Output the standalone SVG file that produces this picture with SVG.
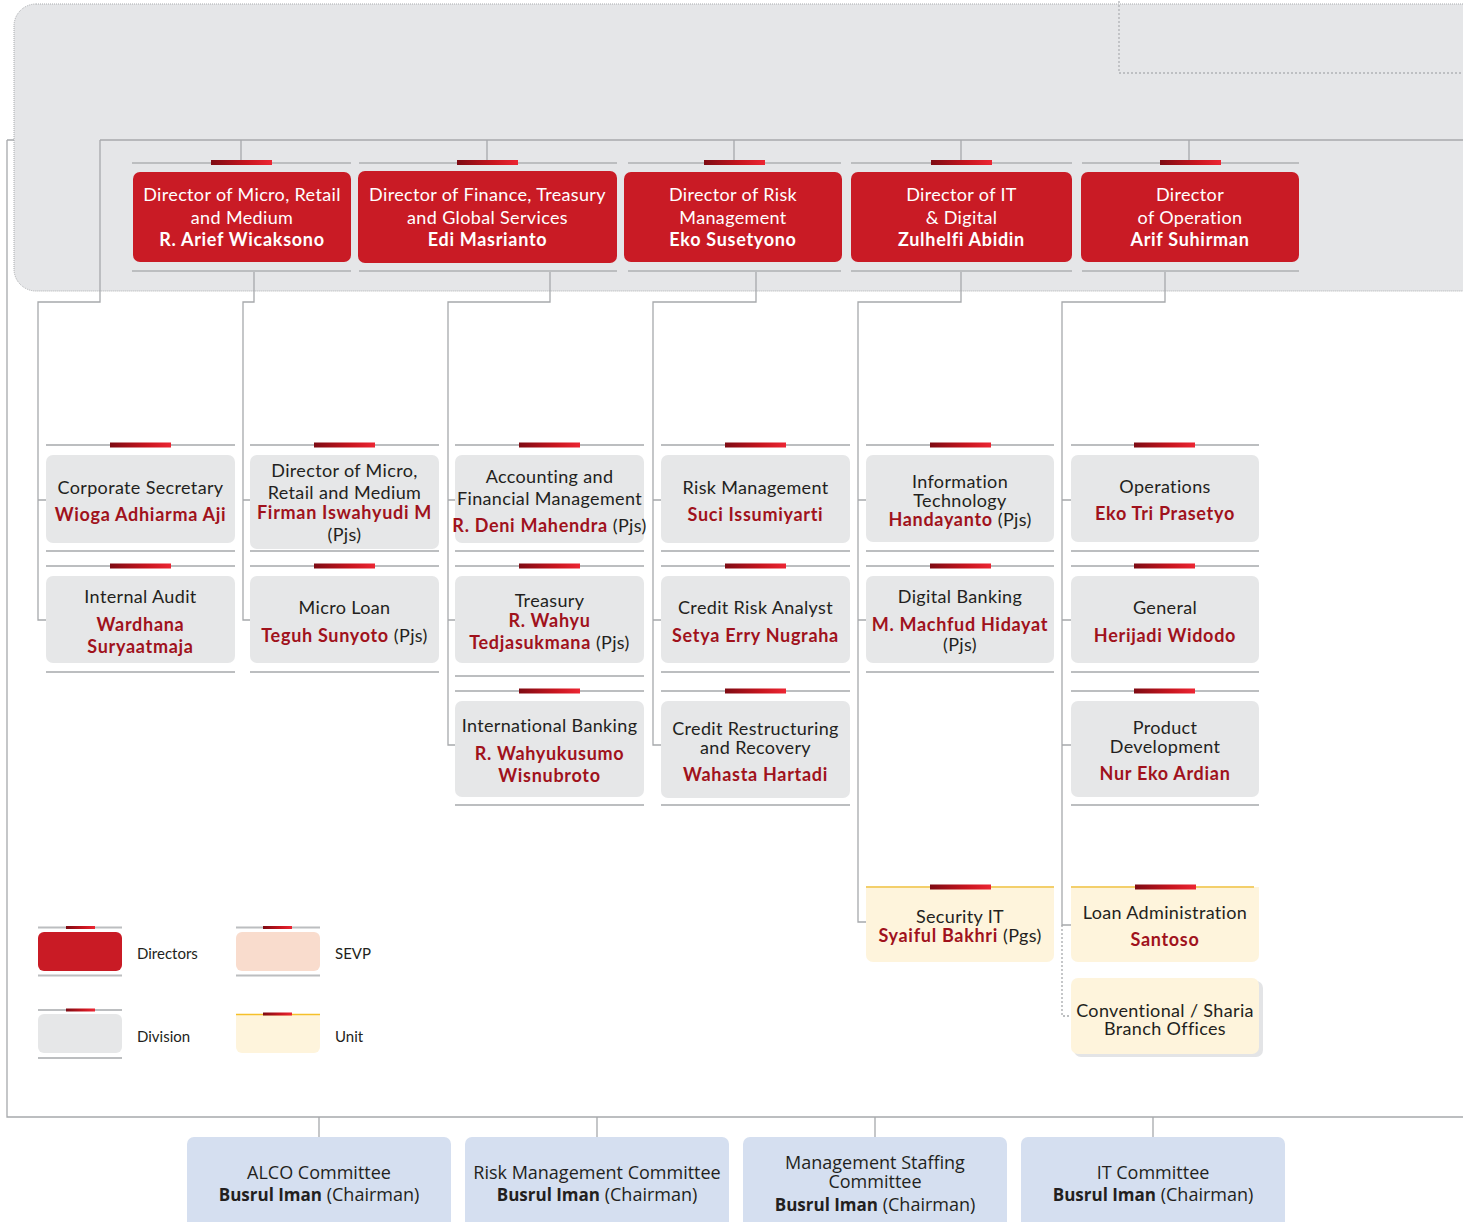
<svg xmlns="http://www.w3.org/2000/svg" width="1463" height="1222" viewBox="0 0 1463 1222">
<defs>
<linearGradient id="bar" x1="0" y1="0" x2="1" y2="0">
<stop offset="0" stop-color="#7e0b13"/>
<stop offset="0.6" stop-color="#c8151f"/>
<stop offset="1" stop-color="#ec2633"/>
</linearGradient>
<style>
.ln{stroke:#a7a9ac;stroke-width:1.3;fill:none}
.dot{stroke:#a7a9ac;stroke-width:1.3;fill:none;stroke-dasharray:2 2}
.sep{stroke:#bcbec0;stroke-width:2}
.ysep{stroke:#f3cf6b;stroke-width:2}
.dir{fill:#c91b25}
.div{fill:#e6e7e8}
.unit{fill:#fef4dc}
.com{fill:#d5dff0}
.sevp{fill:#f9dccd}
.t{font-family:Lato,"Liberation Sans",sans-serif;font-size:18px;fill:#231f20;text-anchor:middle;letter-spacing:0.35px}
.tw{fill:#ffffff}
.b{font-weight:700;letter-spacing:0.7px}
.nm{fill:#a0121c;font-weight:700;letter-spacing:0.7px}
.lg{font-family:Lato,"Liberation Sans",sans-serif;font-size:15px;fill:#231f20}
.ct{font-family:"Open Sans",Lato,"Liberation Sans",sans-serif;font-size:18px;fill:#231f20;text-anchor:middle}
.cb{font-weight:700;font-size:17px}
</style>
</defs>
<rect width="1463" height="1222" fill="#ffffff"/>

<g id="connectors-under">
<path class="ln" d="M7,140 H14 M7,140 V1117 H1463"/>
</g>

<g id="board">
<rect x="14" y="4" width="1480" height="287" rx="22" fill="#e5e6e8" stroke="#a9abae" stroke-width="1" stroke-dasharray="1 1"/>
<rect x="1119" y="-5" width="400" height="78" fill="none" stroke="#b0b2b5" stroke-width="1.3" stroke-dasharray="2 2"/>
</g>

<g id="connectors">
<path class="ln" d="M100,140 H1463"/>
<path class="ln" d="M241,140 V160 M487,140 V160 M734,140 V160 M961,140 V160 M1189,140 V160"/>
<path class="ln" d="M100,140 V302 H38 V620 H46 M38,500 H46"/>
<path class="ln" d="M254,271 V302 H243 V620 H250 M243,500 H250"/>
<path class="ln" d="M550,271 V302 H448 V745 H455 M448,500 H455 M448,620 H455"/>
<path class="ln" d="M756,271 V302 H653 V745 H661 M653,500 H661 M653,620 H661"/>
<path class="ln" d="M961,271 V302 H858 V922 H866 M858,500 H866 M858,620 H866"/>
<path class="ln" d="M1165,271 V302 H1062 V925 H1071 M1062,500 H1071 M1062,620 H1071 M1062,745 H1071"/>
<path class="dot" d="M1062,925 V1016 H1071"/>
<path class="ln" d="M319,1117 V1137 M597,1117 V1137 M875,1117 V1137 M1153,1117 V1137"/>
</g>

<!-- Directors -->
<g id="dir1">
<line class="sep" x1="132" y1="163" x2="351" y2="163"/><rect x="211" y="160" width="61" height="5" fill="url(#bar)"/>
<rect class="dir" x="133" y="172" width="218" height="90" rx="7"/>
<line class="sep" x1="132" y1="271" x2="351" y2="271"/>
<text class="t tw" x="242" y="201">Director of Micro, Retail</text>
<text class="t tw" x="242" y="224">and Medium</text>
<text class="t tw b" x="242" y="246">R. Arief Wicaksono</text>
</g>
<g id="dir2">
<line class="sep" x1="359" y1="163" x2="617" y2="163"/><rect x="457" y="160" width="61" height="5" fill="url(#bar)"/>
<rect class="dir" x="358" y="171" width="259" height="92" rx="7"/>
<line class="sep" x1="359" y1="271" x2="617" y2="271"/>
<text class="t tw" x="487.5" y="201">Director of Finance, Treasury</text>
<text class="t tw" x="487.5" y="224">and Global Services</text>
<text class="t tw b" x="487.5" y="246">Edi Masrianto</text>
</g>
<g id="dir3">
<line class="sep" x1="628" y1="163" x2="841" y2="163"/><rect x="704" y="160" width="61" height="5" fill="url(#bar)"/>
<rect class="dir" x="624" y="172" width="218" height="90" rx="7"/>
<line class="sep" x1="628" y1="271" x2="841" y2="271"/>
<text class="t tw" x="733" y="201">Director of Risk</text>
<text class="t tw" x="733" y="224">Management</text>
<text class="t tw b" x="733" y="246">Eko Susetyono</text>
</g>
<g id="dir4">
<line class="sep" x1="851" y1="163" x2="1072" y2="163"/><rect x="931" y="160" width="61" height="5" fill="url(#bar)"/>
<rect class="dir" x="851" y="172" width="221" height="90" rx="7"/>
<line class="sep" x1="851" y1="271" x2="1072" y2="271"/>
<text class="t tw" x="961.5" y="201">Director of IT</text>
<text class="t tw" x="961.5" y="224">&amp; Digital</text>
<text class="t tw b" x="961.5" y="246">Zulhelfi Abidin</text>
</g>
<g id="dir5">
<line class="sep" x1="1082" y1="163" x2="1299" y2="163"/><rect x="1160" y="160" width="61" height="5" fill="url(#bar)"/>
<rect class="dir" x="1081" y="172" width="218" height="90" rx="7"/>
<line class="sep" x1="1082" y1="271" x2="1299" y2="271"/>
<text class="t tw" x="1190" y="201">Director</text>
<text class="t tw" x="1190" y="224">of Operation</text>
<text class="t tw b" x="1190" y="246">Arif Suhirman</text>
</g>

<!-- Column 1 -->
<g id="corp-sec">
<line class="sep" x1="46" y1="445" x2="235" y2="445"/><rect x="110" y="442.5" width="61" height="5" fill="url(#bar)"/>
<rect class="div" x="46" y="455" width="189" height="88" rx="7"/>
<line class="sep" x1="46" y1="551" x2="235" y2="551"/>
<text class="t" x="140.5" y="494">Corporate Secretary</text>
<text class="t nm" x="140.5" y="521">Wioga Adhiarma Aji</text>
</g>
<g id="internal-audit">
<line class="sep" x1="46" y1="566" x2="235" y2="566"/><rect x="110" y="563.5" width="61" height="5" fill="url(#bar)"/>
<rect class="div" x="46" y="576" width="189" height="87" rx="7"/>
<line class="sep" x1="46" y1="672" x2="235" y2="672"/>
<text class="t" x="140.5" y="603">Internal Audit</text>
<text class="t nm" x="140.5" y="631">Wardhana</text>
<text class="t nm" x="140.5" y="653">Suryaatmaja</text>
</g>

<!-- Column 2 -->
<g id="dir-micro">
<line class="sep" x1="250" y1="445" x2="439" y2="445"/><rect x="314" y="442.5" width="61" height="5" fill="url(#bar)"/>
<rect class="div" x="250" y="455" width="189" height="94" rx="7"/>
<line class="sep" x1="250" y1="551" x2="439" y2="551"/>
<text class="t" x="344.5" y="477">Director of Micro,</text>
<text class="t" x="344.5" y="499">Retail and Medium</text>
<text class="t nm" x="344.5" y="519">Firman Iswahyudi M</text>
<text class="t" x="344.5" y="541">(Pjs)</text>
</g>
<g id="micro-loan">
<line class="sep" x1="250" y1="566" x2="439" y2="566"/><rect x="314" y="563.5" width="61" height="5" fill="url(#bar)"/>
<rect class="div" x="250" y="576" width="189" height="87" rx="7"/>
<line class="sep" x1="250" y1="672" x2="439" y2="672"/>
<text class="t" x="344.5" y="614">Micro Loan</text>
<text class="t" x="344.5" y="642"><tspan class="nm">Teguh Sunyoto</tspan> (Pjs)</text>
</g>

<!-- Column 3 -->
<g id="accounting">
<line class="sep" x1="455" y1="445" x2="644" y2="445"/><rect x="519" y="442.5" width="61" height="5" fill="url(#bar)"/>
<rect class="div" x="455" y="455" width="189" height="88" rx="7"/>
<line class="sep" x1="455" y1="551" x2="644" y2="551"/>
<text class="t" x="549.5" y="483">Accounting and</text>
<text class="t" x="549.5" y="505">Financial Management</text>
<text class="t" x="549.5" y="532"><tspan class="nm">R. Deni Mahendra</tspan> (Pjs)</text>
</g>
<g id="treasury">
<line class="sep" x1="455" y1="566" x2="644" y2="566"/><rect x="519" y="563.5" width="61" height="5" fill="url(#bar)"/>
<rect class="div" x="455" y="576" width="189" height="87" rx="7"/>
<line class="sep" x1="455" y1="676" x2="644" y2="676"/>
<text class="t" x="549.5" y="607">Treasury</text>
<text class="t nm" x="549.5" y="627">R. Wahyu</text>
<text class="t" x="549.5" y="649"><tspan class="nm">Tedjasukmana</tspan> (Pjs)</text>
</g>
<g id="intl-banking">
<line class="sep" x1="455" y1="691" x2="644" y2="691"/><rect x="519" y="688.5" width="61" height="5" fill="url(#bar)"/>
<rect class="div" x="455" y="701" width="189" height="96" rx="7"/>
<line class="sep" x1="455" y1="805" x2="644" y2="805"/>
<text class="t" x="549.5" y="732">International Banking</text>
<text class="t nm" x="549.5" y="760">R. Wahyukusumo</text>
<text class="t nm" x="549.5" y="782">Wisnubroto</text>
</g>

<!-- Column 4 -->
<g id="risk-mgmt">
<line class="sep" x1="661" y1="445" x2="850" y2="445"/><rect x="725" y="442.5" width="61" height="5" fill="url(#bar)"/>
<rect class="div" x="661" y="455" width="189" height="88" rx="7"/>
<line class="sep" x1="661" y1="551" x2="850" y2="551"/>
<text class="t" x="755.5" y="494">Risk Management</text>
<text class="t nm" x="755.5" y="521">Suci Issumiyarti</text>
</g>
<g id="credit-risk">
<line class="sep" x1="661" y1="566" x2="850" y2="566"/><rect x="725" y="563.5" width="61" height="5" fill="url(#bar)"/>
<rect class="div" x="661" y="576" width="189" height="87" rx="7"/>
<line class="sep" x1="661" y1="672" x2="850" y2="672"/>
<text class="t" x="755.5" y="614">Credit Risk Analyst</text>
<text class="t nm" x="755.5" y="642">Setya Erry Nugraha</text>
</g>
<g id="credit-restr">
<line class="sep" x1="661" y1="691" x2="850" y2="691"/><rect x="725" y="688.5" width="61" height="5" fill="url(#bar)"/>
<rect class="div" x="661" y="701" width="189" height="97" rx="7"/>
<line class="sep" x1="661" y1="805" x2="850" y2="805"/>
<text class="t" x="755.5" y="735">Credit Restructuring</text>
<text class="t" x="755.5" y="754">and Recovery</text>
<text class="t nm" x="755.5" y="781">Wahasta Hartadi</text>
</g>

<!-- Column 5 -->
<g id="info-tech">
<line class="sep" x1="866" y1="445" x2="1054" y2="445"/><rect x="930" y="442.5" width="61" height="5" fill="url(#bar)"/>
<rect class="div" x="866" y="455" width="188" height="87" rx="7"/>
<line class="sep" x1="866" y1="551" x2="1054" y2="551"/>
<text class="t" x="960" y="488">Information</text>
<text class="t" x="960" y="507">Technology</text>
<text class="t" x="960" y="526"><tspan class="nm">Handayanto</tspan> (Pjs)</text>
</g>
<g id="digital-banking">
<line class="sep" x1="866" y1="566" x2="1054" y2="566"/><rect x="930" y="563.5" width="61" height="5" fill="url(#bar)"/>
<rect class="div" x="866" y="576" width="188" height="87" rx="7"/>
<line class="sep" x1="866" y1="672" x2="1054" y2="672"/>
<text class="t" x="960" y="603">Digital Banking</text>
<text class="t nm" x="960" y="631">M. Machfud Hidayat</text>
<text class="t" x="960" y="651">(Pjs)</text>
</g>
<g id="security-it">
<rect class="unit" x="866" y="887" width="188" height="75" rx="7"/>
<rect class="unit" x="866" y="887" width="188" height="10"/>
<line class="ysep" x1="866" y1="887" x2="1054" y2="887"/><rect x="930" y="884.5" width="61" height="5" fill="url(#bar)"/>
<text class="t" x="960" y="923">Security IT</text>
<text class="t" x="960" y="942"><tspan class="nm">Syaiful Bakhri</tspan> (Pgs)</text>
</g>

<!-- Column 6 -->
<g id="operations">
<line class="sep" x1="1071" y1="445" x2="1259" y2="445"/><rect x="1134" y="442.5" width="61" height="5" fill="url(#bar)"/>
<rect class="div" x="1071" y="455" width="188" height="87" rx="7"/>
<line class="sep" x1="1071" y1="551" x2="1259" y2="551"/>
<text class="t" x="1165" y="493">Operations</text>
<text class="t nm" x="1165" y="520">Eko Tri Prasetyo</text>
</g>
<g id="general">
<line class="sep" x1="1071" y1="566" x2="1259" y2="566"/><rect x="1134" y="563.5" width="61" height="5" fill="url(#bar)"/>
<rect class="div" x="1071" y="576" width="188" height="87" rx="7"/>
<line class="sep" x1="1071" y1="672" x2="1259" y2="672"/>
<text class="t" x="1165" y="614">General</text>
<text class="t nm" x="1165" y="642">Herijadi Widodo</text>
</g>
<g id="product-dev">
<line class="sep" x1="1071" y1="691" x2="1259" y2="691"/><rect x="1134" y="688.5" width="61" height="5" fill="url(#bar)"/>
<rect class="div" x="1071" y="701" width="188" height="96" rx="7"/>
<line class="sep" x1="1071" y1="805" x2="1259" y2="805"/>
<text class="t" x="1165" y="734">Product</text>
<text class="t" x="1165" y="753">Development</text>
<text class="t nm" x="1165" y="780">Nur Eko Ardian</text>
</g>
<g id="loan-admin">
<rect class="unit" x="1071" y="887" width="188" height="75" rx="7"/>
<rect class="unit" x="1071" y="887" width="188" height="10"/>
<line class="ysep" x1="1071" y1="887" x2="1254" y2="887"/><rect x="1135" y="884.5" width="61" height="5" fill="url(#bar)"/>
<text class="t" x="1165" y="919">Loan Administration</text>
<text class="t nm" x="1165" y="946">Santoso</text>
</g>
<g id="branch-offices">
<rect x="1074" y="981" width="189" height="76" rx="7" fill="#e3e4e6"/>
<rect class="unit" x="1071" y="978" width="188" height="76" rx="7"/>
<text class="t" x="1165" y="1017">Conventional / Sharia</text>
<text class="t" x="1165" y="1035">Branch Offices</text>
</g>

<!-- Legend -->
<g id="legend">
<line class="sep" x1="38" y1="927.5" x2="122" y2="927.5" stroke-width="1.5"/><rect x="66" y="926" width="29" height="3" fill="url(#bar)"/>
<rect class="dir" x="38" y="932" width="84" height="39" rx="6"/>
<line class="sep" x1="38" y1="975.5" x2="122" y2="975.5" stroke-width="1.5"/>
<text class="lg" x="137" y="959">Directors</text>

<line class="sep" x1="236" y1="927.5" x2="320" y2="927.5" stroke-width="1.5"/><rect x="263" y="926" width="29" height="3" fill="url(#bar)"/>
<rect class="sevp" x="236" y="932" width="84" height="39" rx="6"/>
<line class="sep" x1="236" y1="975.5" x2="320" y2="975.5" stroke-width="1.5"/>
<text class="lg" x="335" y="959">SEVP</text>

<line class="sep" x1="38" y1="1010" x2="122" y2="1010" stroke-width="1.5"/><rect x="66" y="1008.5" width="29" height="3" fill="url(#bar)"/>
<rect class="div" x="38" y="1014" width="84" height="39" rx="6"/>
<line class="sep" x1="38" y1="1058" x2="122" y2="1058" stroke-width="1.5"/>
<text class="lg" x="137" y="1042">Division</text>

<rect class="unit" x="236" y="1014" width="84" height="39" rx="6"/>
<rect class="unit" x="236" y="1014" width="84" height="8"/>
<line x1="236" y1="1014.5" x2="320" y2="1014.5" stroke="#f5c02a" stroke-width="1.5"/><rect x="263" y="1012.5" width="29" height="3" fill="url(#bar)"/>
<text class="lg" x="335" y="1042">Unit</text>
</g>

<!-- Committees -->
<g id="alco">
<rect class="com" x="187" y="1137" width="264" height="100" rx="7"/>
<text class="ct" x="319" y="1179">ALCO Committee</text>
<text class="ct" x="319" y="1201"><tspan class="cb">Busrul Iman</tspan> (Chairman)</text>
</g>
<g id="risk-committee">
<rect class="com" x="465" y="1137" width="264" height="100" rx="7"/>
<text class="ct" x="597" y="1179">Risk Management Committee</text>
<text class="ct" x="597" y="1201"><tspan class="cb">Busrul Iman</tspan> (Chairman)</text>
</g>
<g id="staffing-committee">
<rect class="com" x="743" y="1137" width="264" height="100" rx="7"/>
<text class="ct" x="875" y="1169">Management Staffing</text>
<text class="ct" x="875" y="1188">Committee</text>
<text class="ct" x="875" y="1211"><tspan class="cb">Busrul Iman</tspan> (Chairman)</text>
</g>
<g id="it-committee">
<rect class="com" x="1021" y="1137" width="264" height="100" rx="7"/>
<text class="ct" x="1153" y="1179">IT Committee</text>
<text class="ct" x="1153" y="1201"><tspan class="cb">Busrul Iman</tspan> (Chairman)</text>
</g>
</svg>
